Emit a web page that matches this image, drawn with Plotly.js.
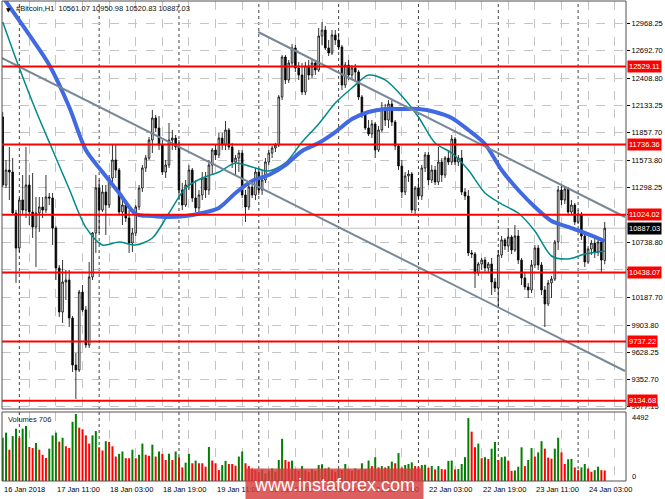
<!DOCTYPE html>
<html><head><meta charset="utf-8">
<script src="https://cdn.plot.ly/plotly-3.0.1.min.js"></script>
<style>html,body{margin:0;padding:0;background:#fff;}#chart{width:665px;height:499px;}</style>
</head><body><div id="chart"></div>
<script>
// ---- data (H1 bars starting 16 Jan 2018 19:00) ----
const symbolTitle = '#Bitcoin,H1';
const opens = [12017,11326,11478,11458,11042,10686,11174,11072,11326,11052,10900,11042,11103,11072,11204,11194,10889,10483,10036,10341,10361,9975,9498,9447,10239,10057,9701,10392,10839,11296,11072,11255,11123,11397,11580,11478,11052,11123,10991,10737,10839,11103,11296,11499,11600,11783,12007,11905,11732,11458,11529,11783,11803,11712,11275,11123,11326,11478,11194,11093,11225,11397,11275,11529,11682,11631,11803,11732,11885,11712,11560,11600,11651,11225,11103,11306,11225,11458,11275,11377,11560,11651,11702,11732,12220,12626,12393,12565,12718,12514,12443,12271,12535,12443,12565,12494,12839,12900,12718,12667,12850,12799,12728,12342,12545,12443,12514,12474,12220,12037,11905,11844,11946,11682,11885,12108,11986,12149,11966,11722,11519,11255,11418,11438,11072,11296,11214,11499,11631,11377,11478,11357,11560,11428,11600,11560,11793,11560,11600,11255,11214,10636,10625,10432,10524,10564,10483,10524,10341,10280,10615,10768,10707,10798,10666,10808,10564,10382,10290,10260,10514,10686,10514,10260,10118,10331,10371,10747,11275,11174,11285,11052,11123,10950,11032,10808,10544,10676,10737,10646,10747,10561.07];
const highs = [12068,11580,11712,11600,11072,11194,11428,11712,11428,11448,11204,11204,11204,11428,11245,11245,10910,10514,10564,10463,10463,9996,9620,10260,10310,10097,10544,10849,11428,11377,11326,11326,11428,11732,11732,11499,11194,11174,11072,10889,11123,11326,11529,11631,11814,12088,12037,12027,11783,11580,11956,11885,11834,11783,11346,11377,11529,11499,11377,11275,11458,11458,11580,11702,11732,11854,11854,11976,11905,11753,11631,11682,11682,11275,11346,11377,11499,11499,11478,11600,11682,11722,11753,12240,12646,12646,12596,12758,12748,12575,12565,12575,12596,12596,12596,12921,12982,12941,12799,12900,12900,12870,12748,12575,12596,12545,12555,12494,12240,12068,11986,11986,11966,11925,12169,12149,12189,12189,11986,11742,11580,11458,11478,11458,11316,11397,11529,11661,11661,11529,11519,11712,11600,11621,11682,11834,11814,11631,11682,11296,11275,10666,10646,10544,10585,10595,10544,10585,10382,10666,10808,10788,10889,10818,10920,10869,10585,10443,10331,10564,10717,10717,10544,10300,10361,10402,10768,11316,11326,11316,11306,11174,11143,11072,11052,10839,10707,10768,10798,10788,10768,10950.98];
const lows = [11306,11296,11174,11021,10331,10646,11021,10991,10920,10788,10493,10849,10991,11042,11123,10717,10361,9986,9925,10158,9884,9427,9153,9427,10036,9671,9671,10361,10636,10839,11052,10818,11093,11326,11397,11021,10920,10950,10636,10646,10808,11072,11255,11458,11580,11651,11864,11682,11428,11397,11499,11682,11682,11174,11072,11103,11275,11153,11052,11021,11174,11194,11225,11428,11580,11600,11682,11682,11682,11499,11428,11458,11194,10950,11072,11194,11174,11225,11225,11346,11529,11600,11661,11712,12189,12352,12362,12535,12474,12393,12240,12240,12393,12413,12443,12474,12748,12697,12636,12646,12748,12697,12291,12311,12393,12393,12372,12189,12007,11885,11824,11803,11600,11661,11864,11925,11905,11925,11682,11478,11194,11225,11357,11042,11032,11174,11174,11458,11326,11346,11326,11326,11357,11397,11529,11529,11529,11519,11225,11174,10605,10585,10280,10402,10463,10443,10443,10209,10239,10077,10585,10666,10646,10625,10646,10524,10310,10260,10178,10229,10483,10463,10209,9884,10097,10178,10351,10666,11123,11133,11021,11032,10920,10930,10768,10493,10524,10615,10585,10605,10432,10520.83];
const closes = [11326,11478,11458,11042,10686,11174,11072,11326,11052,10900,11042,11103,11072,11204,11194,10889,10483,10036,10341,10361,9975,9498,9447,10239,10057,9701,10392,10839,11296,11072,11255,11123,11397,11580,11478,11052,11123,10991,10737,10839,11103,11296,11499,11600,11783,12007,11905,11732,11458,11529,11783,11803,11712,11275,11123,11326,11478,11194,11093,11225,11397,11275,11529,11682,11631,11803,11732,11885,11712,11560,11600,11651,11225,11103,11306,11225,11458,11275,11377,11560,11651,11702,11732,12220,12626,12393,12565,12718,12514,12443,12271,12535,12443,12565,12494,12839,12900,12718,12667,12850,12799,12728,12342,12545,12443,12514,12474,12220,12037,11905,11844,11946,11682,11885,12108,11986,12149,11966,11722,11519,11255,11418,11438,11072,11296,11214,11499,11631,11377,11478,11357,11560,11428,11600,11560,11793,11560,11600,11255,11214,10636,10625,10432,10524,10564,10483,10524,10341,10280,10615,10768,10707,10798,10666,10808,10564,10382,10290,10260,10514,10686,10514,10260,10118,10331,10371,10747,11275,11174,11285,11052,11123,10950,11032,10808,10544,10676,10737,10646,10747,10564,10887.03];
const volumes = [2900,3240,2100,3010,3510,2900,3510,3690,2280,2210,2550,2100,1760,1550,2170,3060,3240,2640,2900,2330,2210,3970,4492,3580,3470,3060,2510,3060,3350,2260,2050,2670,2620,2330,1640,1820,1980,1530,1530,2100,1530,1760,2510,1760,1690,2440,1640,1980,1820,1410,1820,1410,1980,1600,910,1230,1820,1190,1370,1190,1190,960,2280,1370,1190,730,1070,1350,1140,1140,1030,1640,1980,1190,1000,840,730,620,780,500,680,840,620,1410,2830,1410,1300,1370,780,680,1000,730,620,780,680,1070,1120,840,910,730,620,780,730,1140,780,680,840,730,1190,780,1370,1000,1600,910,1000,910,1000,1300,1190,1870,910,1070,1140,1250,1000,960,1070,1090,890,1000,780,1000,800,780,1350,1370,780,800,1140,1600,4220,3310,2260,2510,1530,1600,1480,2170,2620,1410,1600,1640,1370,680,710,960,2260,1000,1410,2210,1640,1920,2670,2170,1570,1500,2170,2900,1920,1140,1460,1480,910,730,910,1140,840,620,730,960,730,706];
const maSlowBars = [0,2,8,14,20,25,30,35,40,45,50,55,60,65,70,75,80,85,90,95,100,105,110,115,120,125,130,135,140,145,150,155,160,165,170,175,181];
const maSlowValues = [13240,13140,12850,12545,12118,11682,11458,11245,11032,11011,11001,11011,11042,11093,11245,11367,11428,11529,11672,11753,11864,11996,12068,12098,12098,12098,12068,12007,11885,11743,11478,11275,11103,10961,10900,10839,10757];
const maFastBars = [0,5,10,15,20,25,30,35,40,45,50,55,60,65,70,75,80,85,90,95,100,105,110,115,120,125,130,135,140,145,150,155,160,165,170,175,181];
const maFastValues = [12982,12514,12080,11682,11285,10895,10717,10747,10717,10788,11042,11296,11397,11458,11550,11509,11468,11550,11763,11946,12159,12311,12443,12393,12230,12017,11753,11651,11478,11245,11133,11042,10859,10605,10575,10625,10656];
const levels = [12529.11, 11736.36, 11024.02, 10438.07, 9737.22, 9134.68];
const lastPrice = 10887.03;
const trendLines = [ {bars:[-0.3, 187.1], prices:[12616, 9437]}, {bars:[76.8, 187.1], prices:[12880, 11001]} ];
const priceTicks = [12968.25,12692.70,12408.80,12133.25,11857.70,11573.80,11298.25,11022.70,10738.80,10463.25,10187.70,9903.80,9628.25,9352.70,9077.15];
const priceTickText = ['12968.25','12692.70','12408.80','12133.25','11857.70','11573.80','11298.25','','10738.80','','10187.70','9903.80','9628.25','9352.70','9077.15'];
const timeLabelBars = [0,16,32,48,64,80,96,112,128,144,160,176];
const timeLabelText = ['16 Jan 2018','17 Jan 11:00','18 Jan 03:00','18 Jan 19:00','19 Jan 11:00','20 Jan 03:00','20 Jan 19:00','21 Jan 11:00','22 Jan 03:00','22 Jan 19:00','23 Jan 11:00','24 Jan 03:00'];
const volumeMaxLabel = 4492;

// ---- helpers ----
function barTime(i){
  const d = new Date(Date.UTC(2018,0,16,19,0,0) + Math.round(i*3600000));
  const p = n => String(n).padStart(2,'0');
  return d.getUTCFullYear()+'-'+p(d.getUTCMonth()+1)+'-'+p(d.getUTCDate())+' '+p(d.getUTCHours())+':'+p(d.getUTCMinutes())+':'+p(d.getUTCSeconds());
}
const W=665,H=499, L=2, R=39, T=1, B=18;
const pw = W-L-R, ph = H-T-B;
const px = x => (x-L)/pw;
const py = y => (H-B-y)/ph;
const FONT = 'Liberation Sans, Arial, sans-serif';
const times = opens.map((_,i)=>barTime(i));
const GREEN='#008000', RED='#ff0000';
const volColors = volumes.map((v,i)=> (i===0 || v>volumes[i-1]) ? GREEN : RED);

const gridTimes=[]; for(let i=0;i<=188;i+=8) gridTimes.push(barTime(i));
const daySeps=[]; for(let i=5;i<=181;i+=24) daySeps.push(barTime(i));

const traces = [
  {type:'candlestick', x:times, open:opens, high:highs, low:lows, close:closes, xaxis:'x', yaxis:'y',
   increasing:{line:{color:'#000',width:0.8}, fillcolor:'#ffffff'},
   decreasing:{line:{color:'#000',width:0.8}, fillcolor:'#000000'},
   whiskerwidth:0, hoverinfo:'skip', showlegend:false},
  {type:'scatter', mode:'lines', x:maFastBars.map(barTime), y:maFastValues, xaxis:'x', yaxis:'y',
   line:{color:'#008b8b', width:1.5, shape:'spline', smoothing:0.8}, hoverinfo:'skip', showlegend:false},
  {type:'scatter', mode:'lines', x:maSlowBars.map(barTime), y:maSlowValues, xaxis:'x', yaxis:'y',
   line:{color:'#4169e1', width:4, shape:'spline', smoothing:0.8}, hoverinfo:'skip', showlegend:false},
  {type:'bar', x:times, y:volumes, xaxis:'x', yaxis:'y2', marker:{color:volColors, line:{width:0}},
   hoverinfo:'skip', showlegend:false}
];

const shapes = [];
// current price line
shapes.push({type:'line', xref:'paper', x0:0, x1:1, yref:'y', y0:lastPrice, y1:lastPrice, line:{color:'#c0c0c0', width:1}, layer:'between'});
// day separators
daySeps.forEach(t=>shapes.push({type:'line', xref:'x', x0:t, x1:t, yref:'paper', y0:0, y1:1, line:{color:'#404040', width:1, dash:'dot'}, layer:'between'}));
// trend lines
trendLines.forEach(tl=>shapes.push({type:'line', xref:'x', yref:'y', x0:barTime(tl.bars[0]), x1:barTime(tl.bars[1]), y0:tl.prices[0], y1:tl.prices[1], line:{color:'#778899', width:2}, layer:'above'}));
// horizontal levels
levels.forEach(v=>shapes.push({type:'line', xref:'paper', x0:0, x1:1, yref:'y', y0:v, y1:v, line:{color:'#ff0000', width:2}, layer:'above'}));
// panel frames
shapes.push({type:'rect', xref:'paper', yref:'paper', x0:0, x1:1, y0:py(409), y1:1, line:{color:'#505050', width:1}, layer:'above'});
shapes.push({type:'rect', xref:'paper', yref:'paper', x0:0, x1:1, y0:0, y1:py(412), line:{color:'#505050', width:1}, layer:'above'});

const ann = [];
const tf = (c)=>({family:FONT, size:7.5, color:c||'#000'});
ann.push({xref:'paper', yref:'paper', x:px(3.5), y:py(9), xanchor:'left', yanchor:'middle', text:'▼', showarrow:false, font:{family:'DejaVu Sans', size:6, color:'#000'}});
ann.push({xref:'paper', yref:'paper', x:px(14), y:py(8.5), xanchor:'left', yanchor:'middle', showarrow:false, font:tf('#111'),
  text: symbolTitle+'\u00a0\u00a0'+[opens[181],highs[181],lows[181],closes[181]].map(v=>v.toFixed(2)).join(' ')});
ann.push({xref:'paper', yref:'paper', x:px(6), y:py(419), xanchor:'left', yanchor:'middle', showarrow:false, font:tf('#222'), text:'Volumes '+volumes[volumes.length-1]});
ann.push({xref:'paper', yref:'paper', x:1, xshift:4, y:py(417), xanchor:'left', yanchor:'middle', showarrow:false, font:tf(), text:String(volumeMaxLabel)});
ann.push({xref:'paper', yref:'paper', x:1, xshift:4, y:py(476), xanchor:'left', yanchor:'middle', showarrow:false, font:tf(), text:'0'});
levels.forEach(v=>ann.push({xref:'paper', yref:'y', x:1, xshift:1, y:v, xanchor:'left', yanchor:'middle', showarrow:false,
  text:v.toFixed(2), font:tf('#fff'), bgcolor:'#ff0000', borderpad:1}));
ann.push({xref:'paper', yref:'y', x:1, xshift:1, y:lastPrice, xanchor:'left', yanchor:'middle', showarrow:false,
  text:lastPrice.toFixed(2), font:tf('#fff'), bgcolor:'#000', borderpad:1});
timeLabelBars.forEach((b,k)=>ann.push({xref:'x', yref:'paper', x:barTime(b), xshift:-1, y:py(489), xanchor:'left', yanchor:'middle', showarrow:false, font:tf(), text:timeLabelText[k]}));
// watermark
ann.push({xref:'paper', yref:'paper', x:px(245), y:py(468), xanchor:'left', yanchor:'top', width:177, height:31, showarrow:false,
  bgcolor:'rgba(214,60,60,0.82)', borderpad:0, text:'www.instaforex.com', font:{family:FONT, size:18, color:'#fff'}, align:'center', valign:'middle'});

const layout = {
  width:W, height:H, margin:{l:L, r:R, t:T, b:B, pad:0},
  paper_bgcolor:'#fff', plot_bgcolor:'#fff', showlegend:false, bargap:0.4,
  xaxis:{type:'date', anchor:'y2', range:[barTime(-0.21), barTime(187.4)], rangeslider:{visible:false},
    tickmode:'array', tickvals:gridTimes, showticklabels:false, ticks:'', showgrid:true,
    gridcolor:'#c4c4c4', griddash:'dash', gridwidth:1, zeroline:false, showline:false, fixedrange:true},
  yaxis:{domain:[py(409),1], range:[9051,13195], side:'right', tickmode:'array', tickvals:priceTicks, ticktext:priceTickText,
    showgrid:true, gridcolor:'#c4c4c4', griddash:'dash', gridwidth:1, ticks:'outside', ticklen:3, tickcolor:'#000',
    tickfont:tf(), zeroline:false, showline:false, fixedrange:true},
  yaxis2:{domain:[0,py(412)], range:[0,4628], side:'right', showticklabels:false, showgrid:false, zeroline:false, ticks:'', fixedrange:true},
  shapes:shapes, annotations:ann
};
Plotly.newPlot('chart', traces, layout, {displayModeBar:false, staticPlot:true});
</script></body></html>
